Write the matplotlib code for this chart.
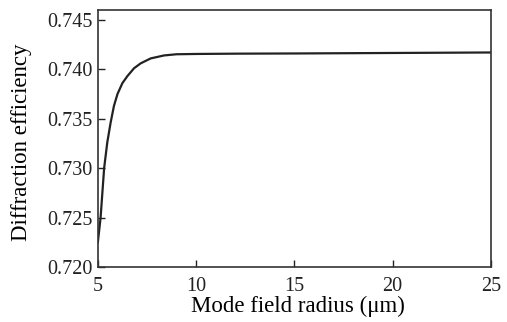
import matplotlib
matplotlib.use('Agg')
import matplotlib.pyplot as plt

plt.rcParams['font.family'] = ['Liberation Serif', 'DejaVu Serif']
plt.rcParams['font.size'] = 14.5

# values
radius = [5.0, 5.14, 5.32, 5.48, 5.65, 5.82, 6.0, 6.25, 6.5, 6.84, 7.18,
          7.69, 8.37, 9.0, 10.0, 12.0, 15.0, 18.0, 20.0, 22.0, 25.0]
efficiency = [0.7225, 0.7250, 0.7300, 0.7326, 0.7346, 0.7363, 0.7375, 0.7386,
              0.7393, 0.7401, 0.7406, 0.7411, 0.7414, 0.74152, 0.74155,
              0.74158, 0.7416, 0.74163, 0.74165, 0.74167, 0.7417]

xticks = [5, 10, 15, 20, 25]
yticks = [0.720, 0.725, 0.730, 0.735, 0.740, 0.745]

fig = plt.figure(figsize=(5.07, 3.22), dpi=100)
ax = fig.add_axes([0.193, 0.171, 0.775, 0.798])

ax.plot(radius, efficiency, color='#222222', lw=1.6)

ax.set_xlim(5, 25)
ax.set_ylim(0.720, 0.746)
ax.set_xticks(xticks)
ax.set_yticks(yticks)
ax.set_yticklabels(['%.3f' % v for v in yticks])
ax.tick_params(direction='in', length=5, width=1, top=False, right=False,
               colors='#222222')
ax.tick_params(axis='x', pad=7)
ax.tick_params(axis='y', pad=4)
for spine in ax.spines.values():
    spine.set_linewidth(1.2)
    spine.set_color('#333333')

ax.set_xlabel('Mode field radius (\u03bcm)', fontsize=16.5)
ax.set_ylabel('Diffraction efficiency', fontsize=16.5)
ax.xaxis.set_label_coords(0.51, -0.113)
ax.yaxis.set_label_coords(-0.168, 0.486)

fig.savefig('out.png', dpi=100)
